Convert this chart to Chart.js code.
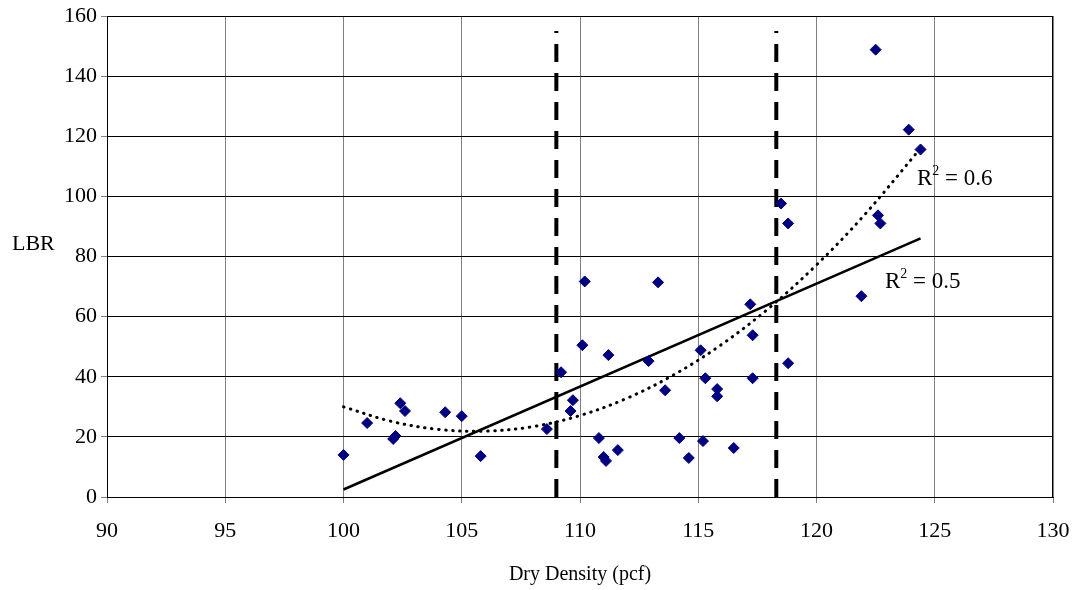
<!DOCTYPE html>
<html>
<head>
<meta charset="utf-8">
<script src="https://cdn.jsdelivr.net/npm/chart.js@4"></script>
<style>
  html, body { margin: 0; padding: 0; background: #fff; }
  #wrap { width: 1079px; height: 590px; }
</style>
</head>
<body>
<div id="wrap"><canvas id="lbrChart" width="1079" height="590"></canvas></div>
<script>
// measured points (dry density, LBR)
const densityX = [100.0, 101.0, 102.1, 102.2, 102.4, 102.6, 104.3, 105.0, 105.8, 108.6,
  109.2, 109.7, 109.6, 110.2, 110.1, 111.2, 110.8, 111.0, 111.1, 111.6,
  113.3, 112.9, 113.6, 114.2, 114.6, 115.1, 115.3, 115.2, 115.8, 115.8,
  116.5, 117.2, 117.3, 117.3, 118.8, 118.5, 118.8, 121.9, 122.5, 122.6,
  122.7, 123.9, 124.4];
const lbrY = [14.0, 24.6, 19.3, 20.3, 31.2, 28.6, 28.2, 26.9, 13.6, 22.6,
  41.5, 32.2, 28.6, 71.7, 50.5, 47.2, 19.6, 13.3, 12.0, 15.6,
  71.4, 45.2, 35.5, 19.6, 13.0, 48.8, 39.5, 18.6, 35.9, 33.5,
  16.3, 64.1, 53.8, 39.5, 44.5, 97.6, 91.0, 66.8, 148.8, 93.7,
  91.0, 122.2, 115.6];

// trend lines
const linearX = [100, 124.4];
const linearY = [2.5, 86];
const polyX = [100, 102, 104, 106, 108, 110, 112, 114, 116, 118, 120, 122, 124.4];
const polyY = [30, 25.2, 22.5, 21.9, 23.4, 27.1, 32.9, 40.8, 50.8, 62.9, 77.2, 93.6, 116];

// vertical limits
const limitLines = [109, 118.3];
const limitTop = 155;

const xTicks = [90, 95, 100, 105, 110, 115, 120, 125, 130];
const yTicks = [0, 20, 40, 60, 80, 100, 120, 140, 160];

const serif = "'Liberation Serif', 'Times New Roman', serif";

function toPoints(xs, ys) {
  return xs.map((x, i) => ({ x: x, y: ys[i] }));
}

const datasets = [
  {
    label: "LBR",
    data: toPoints(densityX, lbrY),
    pointStyle: "rectRot",
    pointRadius: 5.5,
    backgroundColor: "#000080",
    borderColor: "#000080",
    borderWidth: 1,
    showLine: false,
    order: 1,
  },
  {
    label: "Linear",
    data: toPoints(linearX, linearY),
    showLine: true,
    borderColor: "#000",
    borderWidth: 2.5,
    pointRadius: 0,
    order: 2,
  },
  {
    label: "Poly",
    data: toPoints(polyX, polyY),
    showLine: true,
    borderColor: "#000",
    borderWidth: 3,
    borderDash: [0.5, 6.5],
    borderCapStyle: "round",
    tension: 0.35,
    pointRadius: 0,
    order: 2,
  },
];

limitLines.forEach(function (lx) {
  datasets.push({
    label: "limit " + lx,
    data: [{ x: lx, y: 0 }, { x: lx, y: limitTop }],
    showLine: true,
    borderColor: "#000",
    borderWidth: 4,
    borderDash: [18, 11],
    pointRadius: 0,
    order: 3,
  });
});

const extras = {
  id: "extras",
  afterDraw(chart) {
    const ctx = chart.ctx;
    const a = chart.chartArea;
    ctx.save();
    ctx.strokeStyle = "#000";
    ctx.lineWidth = 1;
    ctx.strokeRect(a.left + 0.5, a.top + 0.5, a.right - a.left - 1, a.bottom - a.top);

    ctx.fillStyle = "#000";
    ctx.font = "22px " + serif;
    ctx.textBaseline = "middle";
    ctx.textAlign = "left";
    ctx.fillText("LBR", 12, 244);

    function r2(text, x, y) {
      ctx.font = "23px " + serif;
      ctx.textBaseline = "alphabetic";
      ctx.fillText("R", x, y);
      let w = ctx.measureText("R").width;
      ctx.font = "14px " + serif;
      ctx.fillText("2", x + w, y - 10);
      w += ctx.measureText("2").width;
      ctx.font = "23px " + serif;
      ctx.fillText(text, x + w, y);
    }
    r2(" = 0.6", 917, 185);
    r2(" = 0.5", 885, 288);
    ctx.restore();
  },
};

new Chart(document.getElementById("lbrChart"), {
  type: "scatter",
  data: { datasets: datasets },
  options: {
    responsive: false,
    animation: false,
    layout: { padding: { left: 0, top: 16, right: 26, bottom: 0 } },
    plugins: {
      legend: { display: false },
      tooltip: { enabled: false },
    },
    scales: {
      x: {
        type: "linear",
        min: 90,
        max: 130,
        afterBuildTicks(axis) {
          axis.ticks = xTicks.map((v) => ({ value: v }));
        },
        afterFit(axis) {
          axis.height = 93;
          axis.paddingLeft = 0;
          axis.paddingRight = 0;
        },
        grid: {
          color: "#808080",
          lineWidth: 1,
          tickLength: 6,
        },
        border: { color: "#000", width: 1 },
        ticks: {
          color: "#000",
          font: { family: serif, size: 22 },
          padding: 15,
          maxRotation: 0,
        },
        title: {
          display: true,
          text: "Dry Density (pcf)",
          color: "#000",
          font: { family: serif, size: 20 },
          padding: { top: 10, bottom: 3 },
        },
      },
      y: {
        type: "linear",
        min: 0,
        max: 160,
        afterBuildTicks(axis) {
          axis.ticks = yTicks.map((v) => ({ value: v }));
        },
        afterFit(axis) {
          axis.width = 107;
          axis.paddingTop = 0;
          axis.paddingBottom = 0;
        },
        grid: {
          color: "#000",
          lineWidth: 1,
          tickColor: "#808080",
          tickLength: 6,
        },
        border: { color: "#000", width: 1 },
        ticks: {
          color: "#000",
          font: { family: serif, size: 22 },
          padding: 4,
        },
      },
    },
  },
  plugins: [extras],
});
</script>
</body>
</html>
